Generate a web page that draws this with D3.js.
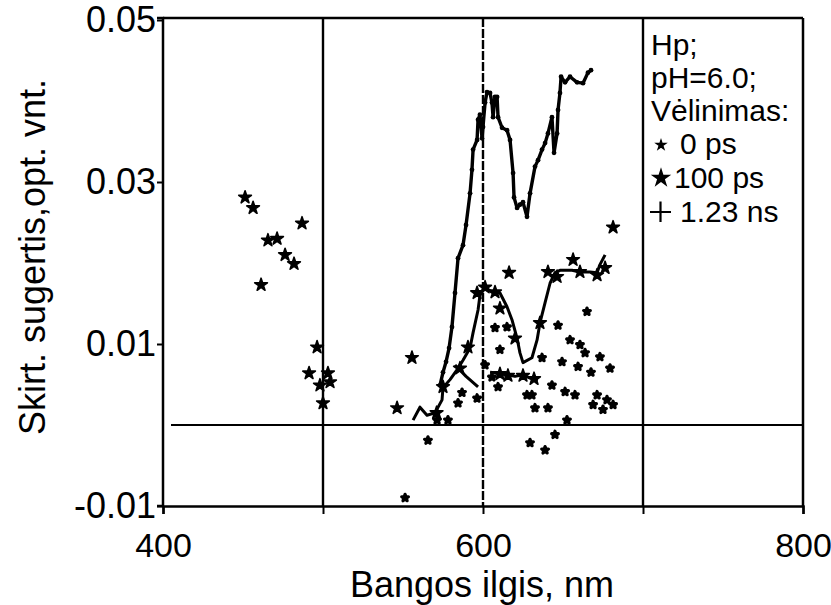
<!DOCTYPE html>
<html>
<head>
<meta charset="utf-8">
<script src="https://cdn.jsdelivr.net/npm/d3@7"></script>
<style>
  html, body { margin: 0; padding: 0; background: #fff; }
  svg { display: block; }
  text { font-family: "Liberation Sans", Arial, sans-serif; fill: #000; }
</style>
</head>
<body>
<svg id="chart" width="831" height="605"></svg>
<script>
// ---------- data (wavelength nm, absorbance difference) ----------
const xTicks = [400, 500, 600, 700, 800];
const xTickLabels = ["400", "", "600", "", "800"];
const yTicks = [-0.01, 0.01, 0.03, 0.05];
const yTickLabels = ["-0.01", "0.01", "0.03", "0.05"];
const gridX = [500, 600, 700];

const legendLines = ["Hp;", "pH=6.0;", "Vėlinimas:"];
const seriesNames = ["0 ps", "100 ps", "1.23 ns"];

// 1.23 ns (line with small markers)
const ns123 = [[573.1,0.0049],[575.0,0.0065],[576.9,0.0078],[578.8,0.0095],[580.6,0.0121],[582.5,0.0163],[584.4,0.0206],[587.5,0.0222],[589.4,0.0247],[591.9,0.0286],[593.1,0.0315],[593.8,0.0340],[596.3,0.0352],[596.9,0.0377],[598.1,0.0383],[599.4,0.0354],[600.0,0.0368],[601.3,0.0398],[602.5,0.0411],[604.4,0.0410],[605.6,0.0398],[606.3,0.0380],[607.5,0.0405],[608.8,0.0405],[609.4,0.0380],[611.9,0.0367],[615.0,0.0364],[616.9,0.0352],[618.8,0.0311],[619.4,0.0281],[621.3,0.0268],[623.1,0.0272],[625.0,0.0275],[627.5,0.0257],[629.4,0.0286],[632.5,0.0319],[634.4,0.0327],[636.9,0.0340],[638.8,0.0348],[640.6,0.0360],[643.1,0.0380],[644.4,0.0336],[646.3,0.0360],[646.9,0.0389],[648.1,0.0410],[648.8,0.0430],[651.3,0.0423],[654.4,0.0430],[658.8,0.0423],[662.5,0.0422],[665.6,0.0435],[667.5,0.0438]];

// 100 ps connected curve
const ps100Line = [[556.3,0.0006],[560.6,0.0022],[565.0,0.0012],[570.0,0.0015],[574.4,0.0031],[575.0,0.0046],[579.4,0.0056],[584.4,0.0070],[587.5,0.0080],[591.9,0.0095],[593.8,0.0114],[596.9,0.0142],[598.1,0.0160],[601.3,0.0170],[605.6,0.0164],[610.6,0.0163],[615.0,0.0146],[618.1,0.0130],[621.3,0.0107],[623.1,0.0089],[625.0,0.0077],[630.6,0.0083],[633.8,0.0105],[635.6,0.0126],[638.8,0.0151],[641.9,0.0175],[645.0,0.0188],[648.1,0.0191],[655.6,0.0191],[660.6,0.0189],[666.9,0.0189],[671.3,0.0188],[673.1,0.0198],[676.3,0.0210]];
const ps100LineStars = [[571.0,0.0015],[575.0,0.0047],[585.6,0.0070],[590.6,0.0096],[596.3,0.0163],[601.3,0.0170],[607.5,0.0164],[610.6,0.0144],[620.0,0.0107],[635.6,0.0126],[640.6,0.0189],[646.3,0.0183],[660.6,0.0189],[671.3,0.0185],[676.3,0.0194]];
const ps100Seg = [[604.4,0.0065],[610.6,0.0064],[615.0,0.0062],[620.0,0.0060],[625.0,0.0062],[629.4,0.0058],[634.4,0.0056]];
const ps100SegStars = [[610.6,0.0063],[615.6,0.0061],[625.0,0.0061],[631.9,0.0057]];
const ps100Seg2 = [[582.5,0.0074],[589.4,0.0060],[596.9,0.0047]];
const ps100Scatter = [[451.3,0.0281],[456.3,0.0268],[486.9,0.0249],[465.6,0.0228],[471.3,0.0230],[476.3,0.0210],[481.9,0.0199],[461.3,0.0173],[496.3,0.0096],[491.3,0.0064],[503.1,0.0064],[498.1,0.0049],[504.4,0.0053],[500.0,0.0027],[546.3,0.0021],[555.6,0.0083],[616.3,0.0188],[656.3,0.0204],[681.3,0.0244]];

// 0 ps scattered points
const ps0 = [[646.9,0.0123],[665.0,0.0140],[654.4,0.0105],[660.6,0.0099],[663.8,0.0089],[673.1,0.0084],[679.4,0.0070],[649.4,0.0078],[659.4,0.0072],[667.5,0.0065],[636.9,0.0083],[643.1,0.0049],[651.3,0.0041],[657.5,0.0037],[671.3,0.0037],[677.5,0.0031],[681.3,0.0025],[668.8,0.0025],[675.0,0.0019],[627.5,0.0037],[630.6,0.0037],[632.5,0.0021],[640.6,0.0021],[652.5,0.0006],[645.0,-0.0012],[629.4,-0.0022],[638.8,-0.0031],[607.5,0.0120],[615.0,0.0121],[610.6,0.0093],[605.6,0.0059],[609.4,0.0047],[586.9,0.0040],[584.4,0.0027],[596.3,0.0033],[578.1,0.0006],[571.3,0.0006],[565.6,-0.0019],[551.3,-0.0090],[601.3,0.0074]];

// ---------- drawing ----------
const svg = d3.select("#chart");
const x = d3.scaleLinear().domain([400, 800]).range([163, 803]);
const y = d3.scaleLinear().domain([-0.01, 0.05]).range([506, 20]);
const FS = 36, XFS = 34;

// frame top/right
svg.append("line").attr("x1", x(400)).attr("x2", x(800)).attr("y1", y(0.05) - 2).attr("y2", y(0.05) - 2)
  .attr("stroke", "#000").attr("stroke-width", 2.5);
svg.append("line").attr("x1", x(800)).attr("x2", x(800)).attr("y1", y(0.05) - 2).attr("y2", y(-0.01))
  .attr("stroke", "#000").attr("stroke-width", 2.5);

// vertical grid lines
svg.selectAll(".gx").data(gridX).join("line")
  .attr("x1", d => x(d)).attr("x2", d => x(d))
  .attr("y1", y(0.05) - 2).attr("y2", y(-0.01))
  .attr("stroke", "#000").attr("stroke-width", 2.4)
  .attr("stroke-dasharray", d => d === 600 ? "9,2" : null);

// zero line
svg.append("line").attr("x1", x(405)).attr("x2", x(800)).attr("y1", y(0)).attr("y2", y(0))
  .attr("stroke", "#000").attr("stroke-width", 2.2);

// axes
const xAxis = d3.axisBottom(x).tickValues(xTicks).tickSize(8).tickPadding(19)
  .tickFormat((d, i) => xTickLabels[i]);
const gx = svg.append("g").attr("transform", `translate(0,${y(-0.01)})`).call(xAxis);
const yAxis = d3.axisLeft(y).tickValues(yTicks).tickSize(6).tickPadding(1)
  .tickFormat((d, i) => yTickLabels[i]);
const gy = svg.append("g").attr("transform", `translate(${x(400)},0)`).call(yAxis);
[gx, gy].forEach(g => {
  g.select(".domain").attr("stroke", "#000").attr("stroke-width", 2.5);
  g.selectAll(".tick line").attr("stroke", "#000").attr("stroke-width", 2);
  g.selectAll(".tick text").attr("font-family", "Liberation Sans, Arial, sans-serif").attr("fill", "#000");
});
gx.selectAll(".tick text").attr("font-size", XFS);
gy.selectAll(".tick text").attr("font-size", FS);
gy.select(".domain").attr("d", `M-6,${y(0.05) - 2}H0V${y(-0.01)}H-6`);

// axis titles
svg.append("text").attr("x", x(600) - 1).attr("y", 597).attr("text-anchor", "middle")
  .attr("font-size", FS).text("Bangos ilgis, nm");
svg.append("text").attr("transform", `translate(45,257) rotate(-90)`).attr("text-anchor", "middle")
  .attr("font-size", FS).text("Skirt. sugertis,opt. vnt.");

// series
const line = d3.line().x(d => x(d[0])).y(d => y(d[1]));
const star = (s) => d3.symbol().type(d3.symbolStar).size(s)();

svg.append("path").datum(ns123).attr("d", line).attr("fill", "none")
  .attr("stroke", "#000").attr("stroke-width", 3.4).attr("stroke-linejoin", "round");
svg.selectAll(".m123").data(ns123).join("circle")
  .attr("cx", d => x(d[0])).attr("cy", d => y(d[1])).attr("r", 2.4).attr("fill", "#000");

[ps100Line, ps100Seg, ps100Seg2].forEach(arr => {
  svg.append("path").datum(arr).attr("d", line).attr("fill", "none")
    .attr("stroke", "#000").attr("stroke-width", 3).attr("stroke-linejoin", "round");
});
svg.selectAll(".s100").data([...ps100LineStars, ...ps100SegStars, ...ps100Scatter]).join("path")
  .attr("d", star(50)).attr("transform", d => `translate(${x(d[0])},${y(d[1])})`).attr("fill", "#000")
  .attr("stroke", "#000").attr("stroke-width", 1.6).attr("stroke-linejoin", "round");

svg.selectAll(".s0").data(ps0).join("path")
  .attr("d", star(14)).attr("transform", d => `translate(${x(d[0])},${y(d[1])})`).attr("fill", "#000")
  .attr("stroke", "#000").attr("stroke-width", 3.2).attr("stroke-linejoin", "round");

// legend
const LX = 651, LFS = 30;
legendLines.forEach((t, i) => {
  svg.append("text").attr("x", LX).attr("y", 55 + i * 33).attr("font-size", LFS).text(t);
});
const ly = [154, 188, 222];
svg.append("path").attr("d", star(30)).attr("transform", `translate(661,${ly[0] - 9})`).attr("fill", "#000")
  .attr("stroke", "#000").attr("stroke-width", 1.2);
svg.append("path").attr("d", star(130)).attr("transform", `translate(661,${ly[1] - 10})`).attr("fill", "#000");
svg.append("path").attr("d", `M650,${ly[2] - 10}H671M660.5,${ly[2] - 20.5}V${ly[2]}`).attr("stroke", "#000").attr("stroke-width", 2.2);
seriesNames.forEach((t, i) => {
  svg.append("text").attr("x", i === 1 ? 674 : 680).attr("y", ly[i]).attr("font-size", LFS).text(t);
});
</script>
</body>
</html>
